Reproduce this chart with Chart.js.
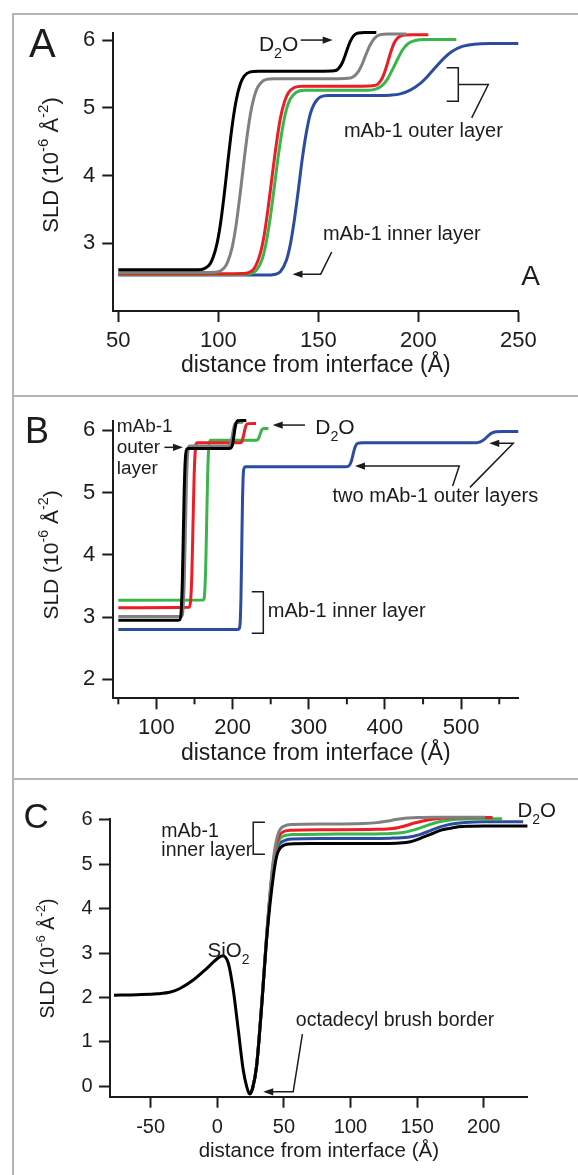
<!DOCTYPE html>
<html>
<head>
<meta charset="utf-8">
<script src="https://cdn.jsdelivr.net/npm/chart.js@4.4.0/dist/chart.umd.min.js"></script>
<style>
  html, body { margin: 0; padding: 0; background: #fff; }
  body { width: 578px; height: 1175px; position: relative; overflow: hidden; }
  .rule { position: absolute; background: #b4b4b4; }
  canvas { position: absolute; left: 0; }
</style>
</head>
<body>
<div class="rule" style="left:12px;top:13px;width:2px;height:1162px"></div>
<div class="rule" style="left:12px;top:13px;width:566px;height:2px"></div>
<div class="rule" style="left:12px;top:395px;width:566px;height:2px"></div>
<div class="rule" style="left:12px;top:778px;width:566px;height:2px"></div>
<canvas id="chartA" width="578" height="396" style="top:0"></canvas>
<canvas id="chartB" width="578" height="382" style="top:396px"></canvas>
<canvas id="chartC" width="578" height="397" style="top:778px"></canvas>
<script>
// ---- panel A : SLD profiles, 5 samples ----
const aBlackX = [50, 86, 90, 93, 96, 99, 101, 103, 105, 107, 109, 111, 113, 116, 120, 150, 158, 160, 162, 163.5, 165, 166.5, 168, 170, 173, 179];
const aBlackY = [2.61, 2.61, 2.61, 2.625, 2.70, 2.95, 3.27, 3.73, 4.26, 4.75, 5.12, 5.35, 5.47, 5.53, 5.54, 5.54, 5.546, 5.575, 5.665, 5.78, 5.91, 6.01, 6.075, 6.104, 6.11, 6.11];
const aGrayX = [50, 94, 98, 101, 104, 107, 109, 111, 113, 115, 117, 119, 121, 124, 128, 160, 165, 167.5, 170, 172, 174, 176, 178, 181, 185, 194];
const aGrayY = [2.57, 2.57, 2.573, 2.59, 2.68, 2.95, 3.29, 3.75, 4.25, 4.71, 5.05, 5.26, 5.36, 5.42, 5.43, 5.43, 5.435, 5.46, 5.535, 5.65, 5.80, 5.93, 6.025, 6.08, 6.09, 6.09];
const aRedX = [50, 108, 112, 115, 118, 121, 123, 125, 127, 129, 131, 133, 135, 138, 142, 172, 178, 180, 182, 183.5, 185, 186.5, 188, 190, 193, 197, 205];
const aRedY = [2.55, 2.55, 2.552, 2.565, 2.63, 2.85, 3.13, 3.54, 4.01, 4.46, 4.84, 5.08, 5.22, 5.30, 5.32, 5.32, 5.328, 5.355, 5.44, 5.555, 5.70, 5.845, 5.96, 6.04, 6.075, 6.08, 6.08];
const aGreenX = [50, 112, 116, 119, 122, 124, 126, 128, 130, 132, 134, 136, 139, 143, 175, 179, 182, 184.5, 187, 189.5, 192, 195, 198, 203, 219];
const aGreenY = [2.54, 2.54, 2.55, 2.60, 2.77, 3.02, 3.38, 3.83, 4.29, 4.68, 4.97, 5.13, 5.23, 5.26, 5.26, 5.28, 5.33, 5.42, 5.56, 5.71, 5.85, 5.95, 5.99, 6.01, 6.01];
const aBlueX = [50, 124, 128, 131, 134, 136, 138, 140, 142, 144, 146, 148, 151, 155, 180, 186, 191, 196, 201, 205, 209, 213, 217, 222, 228, 236, 250];
const aBlueY = [2.53, 2.53, 2.54, 2.58, 2.745, 2.98, 3.34, 3.78, 4.25, 4.63, 4.91, 5.06, 5.16, 5.18, 5.181, 5.187, 5.206, 5.26, 5.36, 5.477, 5.61, 5.737, 5.834, 5.906, 5.94, 5.95, 5.95];
const aXTicks = [50, 100, 150, 200, 250];
const aYTicks = [3, 4, 5, 6];

// ---- panel B ----
const bBlackX = [50, 128, 130.5, 132.5, 134, 135.3, 136.5, 138, 140, 143, 195, 198, 200, 201.5, 203, 204.5, 207, 211, 218];
const bBlackY = [2.95, 2.95, 2.957, 3.09, 3.57, 4.33, 5.05, 5.555, 5.70, 5.71, 5.71, 5.72, 5.78, 5.89, 6.02, 6.11, 6.157, 6.16, 6.16];
const bGrayX = [50, 133, 135, 136.5, 138, 139.5, 141, 143.5, 150, 193, 196, 198, 199.5, 201, 202.5, 205, 214];
const bGrayY = [3.01, 3.01, 3.14, 3.57, 4.38, 5.19, 5.62, 5.75, 5.75, 5.75, 5.76, 5.81, 5.90, 6.01, 6.09, 6.128, 6.13];
const bRedX = [50, 143, 145, 146.5, 148, 149.5, 151, 153.5, 160, 208, 211, 213, 214.5, 216, 217.5, 220, 230.7];
const bRedY = [3.15, 3.157, 3.28, 3.69, 4.475, 5.26, 5.67, 5.80, 5.80, 5.80, 5.807, 5.85, 5.925, 6.01, 6.077, 6.108, 6.11];
const bGreenX = [50, 161.5, 163.5, 165, 166, 167.3, 168.8, 171, 178, 229, 232, 234, 235.5, 237, 238.5, 241, 247];
const bGreenY = [3.27, 3.276, 3.42, 3.95, 4.555, 5.30, 5.74, 5.84, 5.84, 5.84, 5.844, 5.87, 5.916, 5.97, 6.01, 6.029, 6.03];
const bBlueX = [50, 207, 209.5, 211, 212, 213, 214.5, 217, 230, 348, 352, 355, 357, 359, 361, 364, 370, 510, 520, 525, 530, 535, 540, 546, 555, 575];
const bBlueY = [2.80, 2.80, 2.85, 3.33, 4.11, 4.88, 5.365, 5.415, 5.415, 5.415, 5.424, 5.476, 5.557, 5.658, 5.739, 5.791, 5.80, 5.80, 5.802, 5.814, 5.85, 5.908, 5.955, 5.976, 5.98, 5.98];
const bXTicks = [100, 200, 300, 400, 500];
const bXMinor = [50, 150, 250, 350, 450, 550];
const bYTicks = [2, 3, 4, 5, 6];

// ---- panel C ----
const cBlackX = [-77.5, -60, -45, -35, -28, -18, -8, -0.5, 4, 8.3, 12, 15.8, 19.5, 22, 24.3, 26.5, 29.5, 33.3, 37, 40.8, 44.5, 48.3, 54.5, 70, 100, 125, 137, 145, 150, 156, 162, 168, 174.5, 181, 188, 200, 232.8];
const cBlackY = [2.05, 2.06, 2.08, 2.12, 2.20, 2.39, 2.65, 2.86, 2.94, 2.77, 2.17, 1.26, 0.36, 0.0, -0.18, -0.05, 0.44, 1.79, 3.29, 4.42, 5.17, 5.40, 5.46, 5.47, 5.47, 5.47, 5.48, 5.51, 5.555, 5.63, 5.70, 5.77, 5.81, 5.845, 5.86, 5.865, 5.865];
const cGrayX = [24.3, 26.5, 29.5, 33.3, 37, 40.5, 43.5, 46.5, 50, 56, 80, 110, 120, 127, 134, 141, 150, 165, 201];
const cGrayY = [-0.18, -0.05, 0.46, 1.84, 3.38, 4.65, 5.40, 5.75, 5.86, 5.90, 5.91, 5.92, 5.94, 5.97, 6.01, 6.04, 6.055, 6.06, 6.06];
const cRedX = [24.3, 26.5, 29.5, 33.3, 37, 40.5, 43.5, 46.5, 50, 56, 80, 120, 132, 140, 148, 156, 164, 175, 190, 206.6];
const cRedY = [-0.18, -0.05, 0.45, 1.82, 3.36, 4.6, 5.32, 5.64, 5.74, 5.77, 5.78, 5.79, 5.81, 5.86, 5.93, 5.99, 6.03, 6.05, 6.055, 6.055];
const cGreenX = [24.3, 26.5, 29.5, 33.3, 37, 40.5, 43.5, 46.5, 50, 56, 80, 125, 138, 147, 155, 163, 171, 180, 195, 213.8];
const cGreenY = [-0.18, -0.05, 0.45, 1.81, 3.34, 4.55, 5.25, 5.55, 5.64, 5.67, 5.68, 5.69, 5.71, 5.77, 5.85, 5.93, 5.98, 6.015, 6.03, 6.03];
const cBlueX = [24.3, 26.5, 29.5, 33.3, 37, 40.5, 43.5, 46.5, 50, 56, 80, 130, 143, 152, 160, 168, 176, 186, 200, 229.6];
const cBlueY = [-0.18, -0.05, 0.45, 1.80, 3.32, 4.5, 5.18, 5.45, 5.53, 5.57, 5.58, 5.59, 5.61, 5.67, 5.76, 5.85, 5.91, 5.945, 5.96, 5.96];
const cXTicks = [-50, 0, 50, 100, 150, 200];
const cYTicks = [0, 1, 2, 3, 4, 5, 6];

const FONT = "'Liberation Sans', Arial, Helvetica, sans-serif";
const INK = '#1c1c1c';
const COLORS = { black: '#000000', gray: '#808080', red: '#ee1c25', green: '#3ab54a', blue: '#2b4ca0' };
const X_TITLE = 'distance from interface (\u00c5)';
const Y_TITLE = [['SLD (10'], ['-6', 'sup'], [' \u00c5'], ['-2', 'sup'], [')']];

function drawRich(ctx, parts, x, y, size) {
  parts.forEach(p => {
    const s = p[1] ? size * 0.68 : size;
    ctx.font = s + 'px ' + FONT;
    let dy = 0;
    if (p[1] === 'sub') dy = size * 0.34;
    if (p[1] === 'sup') dy = -size * 0.45;
    ctx.fillText(p[0], x, y + dy);
    x += ctx.measureText(p[0]).width;
  });
}
function richWidth(ctx, parts, size) {
  let w = 0;
  parts.forEach(p => {
    ctx.font = (p[1] ? size * 0.68 : size) + 'px ' + FONT;
    w += ctx.measureText(p[0]).width;
  });
  return w;
}

// annotations, panel letter, y title and minor ticks
function notes(spec) {
  return {
    id: 'notes',
    afterDraw(chart) {
      const ctx = chart.ctx, xs = chart.scales.x, ys = chart.scales.y;
      ctx.save();
      ctx.fillStyle = INK;
      ctx.strokeStyle = INK;
      ctx.textBaseline = 'alphabetic';
      ctx.textAlign = 'left';
      ctx.lineWidth = 2;
      (spec.minor || []).forEach(v => {
        const px = xs.getPixelForValue(v);
        ctx.beginPath();
        ctx.moveTo(px, chart.chartArea.bottom);
        ctx.lineTo(px, chart.chartArea.bottom + 6);
        ctx.stroke();
      });
      ctx.lineWidth = 1.5;
      spec.items.forEach(it => {
        if (it.path) {
          const pts = it.path.map(p => [xs.getPixelForValue(p[0]), ys.getPixelForValue(p[1])]);
          let last = pts[pts.length - 1];
          let prev = pts[pts.length - 2];
          let ang = Math.atan2(last[1] - prev[1], last[0] - prev[0]);
          const end = it.arrow ? [last[0] - 8 * Math.cos(ang), last[1] - 8 * Math.sin(ang)] : last;
          ctx.beginPath();
          ctx.moveTo(pts[0][0], pts[0][1]);
          for (let i = 1; i < pts.length - 1; i++) ctx.lineTo(pts[i][0], pts[i][1]);
          ctx.lineTo(end[0], end[1]);
          ctx.stroke();
          if (it.arrow) {
            ctx.beginPath();
            ctx.moveTo(last[0], last[1]);
            ctx.lineTo(last[0] - 10 * Math.cos(ang) + 3.6 * Math.sin(ang), last[1] - 10 * Math.sin(ang) - 3.6 * Math.cos(ang));
            ctx.lineTo(last[0] - 10 * Math.cos(ang) - 3.6 * Math.sin(ang), last[1] - 10 * Math.sin(ang) + 3.6 * Math.cos(ang));
            ctx.closePath();
            ctx.fill();
          }
        } else {
          drawRich(ctx, it.text, xs.getPixelForValue(it.x), ys.getPixelForValue(it.y), it.size);
        }
      });
      ctx.font = spec.letter.size + 'px ' + FONT;
      ctx.fillText(spec.letter.text, spec.letter.x, spec.letter.y);
      ctx.translate(spec.yTitle.x, spec.yTitle.y);
      ctx.rotate(-Math.PI / 2);
      const w = richWidth(ctx, Y_TITLE, spec.yTitle.size);
      drawRich(ctx, Y_TITLE, -w / 2, 0, spec.yTitle.size);
      ctx.restore();
    }
  };
}

function buildPanel(id, spec) {
  const axisCommon = (ticks, size, pad) => ({
    type: 'linear',
    afterBuildTicks: s => { s.ticks = ticks.map(v => ({ value: v })); },
    ticks: { autoSkip: false, maxRotation: 0, padding: pad, color: INK, font: { family: FONT, size: size } },
    grid: { display: true, drawOnChartArea: false, drawTicks: true, tickLength: 11, tickWidth: 2, tickColor: INK, color: INK },
    border: { display: true, width: 2, color: INK }
  });
  const x = Object.assign(axisCommon(spec.xTicks, spec.tickSize, spec.xPad), {
    min: spec.xRange[0], max: spec.xRange[1],
    afterFit: s => { s.height = spec.xHeight; },
    title: { display: true, text: X_TITLE, color: INK, font: { family: FONT, size: spec.titleSize }, padding: { top: 0, bottom: spec.titlePad } }
  });
  const y = Object.assign(axisCommon(spec.yTicks, spec.tickSize, spec.yPad), {
    min: spec.yRange[0], max: spec.yRange[1],
    afterFit: s => { s.width = spec.yWidth; }
  });
  new Chart(document.getElementById(id), {
    type: 'line',
    data: {
      datasets: spec.series.map(s => ({
        data: s.x.map((v, i) => ({ x: v, y: s.y[i] })),
        borderColor: s.color,
        borderWidth: 3,
        pointRadius: 0,
        fill: false,
        clip: false,
        cubicInterpolationMode: 'monotone',
        borderCapStyle: 'butt',
        borderJoinStyle: 'round'
      }))
    },
    options: {
      responsive: false,
      animation: false,
      events: [],
      layout: { padding: spec.padding },
      plugins: { legend: { display: false }, tooltip: { enabled: false } },
      scales: { x: x, y: y }
    },
    plugins: [notes(spec)]
  });
}

buildPanel('chartA', {
  series: [
    { x: aBlackX, y: aBlackY, color: COLORS.black },
    { x: aGrayX, y: aGrayY, color: COLORS.gray },
    { x: aRedX, y: aRedY, color: COLORS.red },
    { x: aGreenX, y: aGreenY, color: COLORS.green },
    { x: aBlueX, y: aBlueY, color: COLORS.blue }
  ],
  xRange: [47.5, 250], yRange: [2.0, 6.1],
  xTicks: aXTicks, yTicks: aYTicks,
  padding: { left: 0, right: 59.7, top: 33.3, bottom: 0 },
  yWidth: 113.3, xHeight: 85,
  tickSize: 22, xPad: 5.6, yPad: 7, titleSize: 23, titlePad: 16.9,
  letter: { text: 'A', x: 29, y: 56.7, size: 40 },
  yTitle: { x: 57.5, y: 165, size: 22 },
  items: [
    { text: [['D'], ['2', 'sub'], ['O']], x: 120.3, y: 5.835, size: 21 },
    { path: [[141.2, 6.0], [157.2, 6.0]], arrow: true },
    { text: [['mAb-1 outer layer']], x: 162.8, y: 4.564, size: 20 },
    { path: [[214.2, 5.59], [220, 5.59], [220, 5.096], [214.2, 5.096]] },
    { path: [[220, 5.343], [235, 5.343], [226.7, 4.851]] },
    { text: [['mAb-1 inner layer']], x: 152.3, y: 3.046, size: 20 },
    { path: [[156.7, 2.871], [151.2, 2.544], [137.1, 2.544]], arrow: true },
    { text: [['A']], x: 251.5, y: 2.378, size: 28 }
  ]
});

buildPanel('chartB', {
  series: [
    { x: bBlackX, y: bBlackY, color: COLORS.black },
    { x: bGrayX, y: bGrayY, color: COLORS.gray },
    { x: bRedX, y: bRedY, color: COLORS.red },
    { x: bGreenX, y: bGreenY, color: COLORS.green },
    { x: bBlueX, y: bBlueY, color: COLORS.blue }
  ],
  xRange: [43.4, 575], yRange: [1.695, 6.155],
  xTicks: bXTicks, yTicks: bYTicks, minor: bXMinor,
  padding: { left: 0, right: 59.7, top: 24.7, bottom: 0 },
  yWidth: 113.3, xHeight: 79.7,
  tickSize: 22, xPad: 5.8, yPad: 7, titleSize: 23, titlePad: 10.5,
  letter: { text: 'B', x: 25, y: 47, size: 36 },
  yTitle: { x: 57.5, y: 159, size: 21 },
  items: [
    { text: [['mAb-1']], x: 47.9, y: 5.978, size: 19 },
    { text: [['outer']], x: 47.9, y: 5.63, size: 19 },
    { text: [['layer']], x: 47.9, y: 5.298, size: 19 },
    { path: [[110.5, 5.727], [134.9, 5.727]], arrow: true },
    { path: [[295, 6.085], [252.6, 6.085]], arrow: true },
    { text: [['D'], ['2', 'sub'], ['O']], x: 308.5, y: 5.94, size: 21 },
    { text: [['two mAb-1 outer layers']], x: 331.2, y: 4.848, size: 20 },
    { path: [[488.8, 5.105], [497.5, 5.426], [360.6, 5.426]], arrow: true },
    { path: [[511.5, 5.084], [568.4, 5.791], [536.9, 5.791]], arrow: true },
    { path: [[225.1, 3.407], [240.3, 3.407], [240.3, 2.739], [225.1, 2.739]] },
    { text: [['mAb-1 inner layer']], x: 246.2, y: 2.996, size: 20 }
  ]
});

buildPanel('chartC', {
  series: [
    { x: cBlackX, y: cBlackY, color: COLORS.black },
    { x: cGrayX, y: cGrayY, color: COLORS.gray },
    { x: cRedX, y: cRedY, color: COLORS.red },
    { x: cGreenX, y: cGreenY, color: COLORS.green },
    { x: cBlueX, y: cBlueY, color: COLORS.blue }
  ],
  xRange: [-80.5, 233], yRange: [-0.24, 6.015],
  xTicks: cXTicks, yTicks: cYTicks,
  padding: { left: 0, right: 50.3, top: 41.3, bottom: 0 },
  yWidth: 110, xHeight: 78.3,
  tickSize: 20, xPad: 7.3, yPad: 6.5, titleSize: 20.5, titlePad: 11.5,
  letter: { text: 'C', x: 23.5, y: 50, size: 35 },
  yTitle: { x: 53.5, y: 180.5, size: 19.5 },
  items: [
    { text: [['mAb-1']], x: -42, y: 5.624, size: 19.5 },
    { text: [['inner layer']], x: -42, y: 5.178, size: 19.5 },
    { path: [[35.8, 5.949], [27, 5.949], [27, 5.227], [35.8, 5.227]] },
    { text: [['SiO'], ['2', 'sub']], x: -7.3, y: 2.917, size: 20.5 },
    { text: [['octadecyl brush border']], x: 59, y: 1.353, size: 19.5 },
    { path: [[63.9, 1.173], [57.0, -0.129], [34.5, -0.129]], arrow: true },
    { text: [['D'], ['2', 'sub'], ['O']], x: 225.3, y: 6.075, size: 20.5 }
  ]
});
</script>
</body>
</html>
